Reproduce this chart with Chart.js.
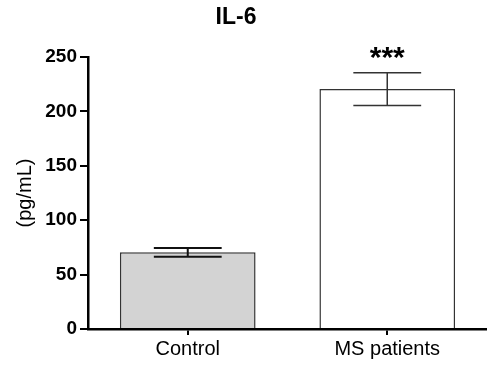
<!DOCTYPE html>
<html>
<head>
<meta charset="utf-8">
<script src="https://cdn.jsdelivr.net/npm/chart.js@4/dist/chart.umd.min.js"></script>
<style>
  html, body { margin: 0; padding: 0; background: #fff; }
  #wrap { width: 487px; height: 367px; position: relative; }
</style>
</head>
<body>
<div id="wrap"><canvas id="chart-il6"></canvas></div>
<script>
// IL-6 levels, mean +/- SEM
const categories = ['Control', 'MS patients']
const means = [70.5, 220.5]
const errors = [4, 15]
const stars = ['', '***']
const fills = ['#d3d3d3', '#ffffff']
const yMax = 250
const yStep = 50

Chart.defaults.font.family = 'Arial, "Liberation Sans", sans-serif'
Chart.defaults.color = '#000'

// error bars + significance marks
const errorBars = {
  id: 'errorBars',
  afterDatasetsDraw(chart) {
    const ctx = chart.ctx
    const y = chart.scales.y
    const meta = chart.getDatasetMeta(0)
    ctx.save()
    meta.data.forEach((bar, i) => {
      const half = bar.width / 4
      const hi = y.getPixelForValue(means[i] + errors[i])
      const lo = y.getPixelForValue(means[i] - errors[i])
      ctx.strokeStyle = i === 0 ? '#111' : '#333'
      ctx.lineWidth = i === 0 ? 2 : 1.5
      ctx.beginPath()
      ctx.moveTo(bar.x, hi)
      ctx.lineTo(bar.x, lo)
      ctx.moveTo(bar.x - half, hi)
      ctx.lineTo(bar.x + half, hi)
      ctx.moveTo(bar.x - half, lo)
      ctx.lineTo(bar.x + half, lo)
      ctx.stroke()
      if (stars[i]) {
        ctx.fillStyle = '#000'
        ctx.font = 'bold 30px Arial, "Liberation Sans", sans-serif'
        ctx.textAlign = 'center'
        ctx.textBaseline = 'alphabetic'
        ctx.fillText(stars[i], bar.x, hi - 6)
      }
    })
    // chart title
    ctx.fillStyle = '#000'
    ctx.font = 'bold 23px Arial, "Liberation Sans", sans-serif'
    ctx.textAlign = 'center'
    ctx.textBaseline = 'middle'
    ctx.fillText('IL-6', 236, 18)
    ctx.restore()
  },
}

const ctx = document.getElementById('chart-il6')
new Chart(ctx, {
  type: 'bar',
  data: {
    labels: categories,
    datasets: [
      {
        data: means,
        backgroundColor: fills,
        borderColor: '#333',
        borderWidth: 1.5,
        barPercentage: 0.68,
        categoryPercentage: 1,
      },
    ],
  },
  options: {
    responsive: true,
    maintainAspectRatio: false,
    animation: false,
    layout: {
      padding: { top: 57, right: 0, bottom: 0, left: 0 },
    },
    plugins: {
      legend: { display: false },
      tooltip: { enabled: false },
    },
    scales: {
      x: {
        afterFit: (scale) => { scale.height = 38 },
        grid: { offset: false, drawOnChartArea: false, drawTicks: true, tickLength: 6, color: '#000', lineWidth: 2 },
        border: { color: '#000', width: 2.5 },
        ticks: { font: { size: 20 }, padding: 2, color: '#000' },
      },
      y: {
        min: 0,
        max: yMax,
        afterFit: (scale) => { scale.width = 88 },
        grid: { drawOnChartArea: false, drawTicks: true, tickLength: 8, color: '#000', lineWidth: 2 },
        border: { color: '#000', width: 2.5 },
        ticks: { stepSize: yStep, font: { size: 19, weight: 'bold' }, padding: 3, color: '#000' },
        title: { display: true, text: '(pg/mL)', font: { size: 20 }, padding: { top: 13, bottom: 0 }, color: '#000' },
      },
    },
  },
  plugins: [errorBars],
})
</script>
</body>
</html>
